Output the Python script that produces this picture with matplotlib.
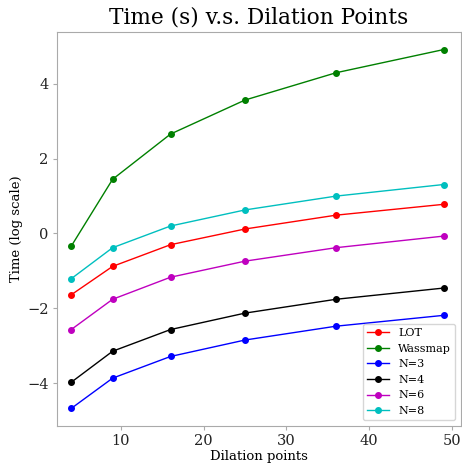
import numpy as np
import matplotlib.pyplot as plt

plt.rcParams['font.family'] = 'DejaVu Serif'

# dilation points and log-time for each method
points = [4, 9, 16, 25, 36, 49]
lot = [-1.64, -0.88, -0.30, 0.12, 0.49, 0.78]
wassmap = [-0.34, 1.45, 2.66, 3.57, 4.30, 4.92]
n3 = [-4.68, -3.87, -3.29, -2.85, -2.48, -2.19]
n4 = [-3.98, -3.15, -2.57, -2.13, -1.76, -1.46]
n6 = [-2.57, -1.76, -1.17, -0.74, -0.38, -0.07]
n8 = [-1.21, -0.38, 0.20, 0.63, 1.00, 1.31]

fig = plt.figure(figsize=(4.62, 4.66), dpi=100)
ax = fig.add_axes([57/462, 1-426/466, 404/462, 394/466])

ax.plot(points, lot, 'r', marker='o', markersize=4, linewidth=1, label='LOT')
ax.plot(points, wassmap, 'g', marker='o', markersize=4, linewidth=1, label='Wassmap')
ax.plot(points, n3, 'b', marker='o', markersize=4, linewidth=1, label='N=3')
ax.plot(points, n4, 'k', marker='o', markersize=4, linewidth=1, label='N=4')
ax.plot(points, n6, 'm', marker='o', markersize=4, linewidth=1, label='N=6')
ax.plot(points, n8, 'c', marker='o', markersize=4, linewidth=1, label='N=8')

ax.set_xlim(2.28, 51.1)
ax.set_ylim(-5.15, 5.39)
ax.set_title('Time (s) v.s. Dilation Points', fontsize=15.6)
ax.set_xlabel('Dilation points', fontsize=9.5, labelpad=1)
ax.set_ylabel('Time (log scale)', fontsize=9.5, labelpad=3)
ax.tick_params(labelsize=10.5, color='#aaaaaa', labelcolor='#222222', length=3, pad=3)
for s in ax.spines.values():
    s.set_color('#aaaaaa')
ax.legend(loc='lower right', fontsize=8)

plt.savefig('out.png', dpi=100)
